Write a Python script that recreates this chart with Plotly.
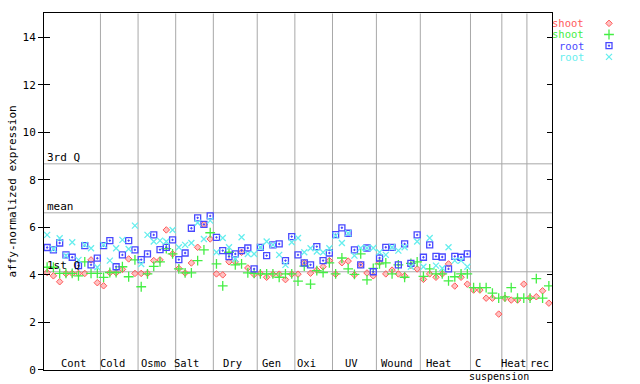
import plotly.graph_objects as go

# ---------------- data ----------------
section_labels = ["Cont", "Cold", "Osmo", "Salt", "Dry", "Gen", "Oxi", "UV",
                  "Wound", "Heat", "C", "Heat", "rec"]
section_sizes = [9, 6, 6, 6, 7, 6, 6, 7, 7, 8, 5, 4, 4]
sub_label = "suspension"

shoot_red = [4.10, 3.96, 3.71, 4.05, 4.06, 4.06, 4.06, 4.63, 3.67,
             3.54, 4.09, 4.09, 4.23, 4.67, 4.06,
             4.06, 4.06, 4.60, 4.63, 5.89, 4.88,
             4.27, 4.08, 4.50, 5.16, 6.12, 5.51,
             4.04, 4.00, 4.55, 4.55, 4.95, 4.29, 4.02,
             4.06, 3.90, 4.03, 4.03, 3.80, 4.03,
             4.03, 4.51, 4.07, 4.20, 4.34, 4.60,
             4.03, 4.51, 4.58, 4.00, 4.42, 4.08, 3.96,
             4.52, 4.04, 4.20, 4.04, 3.96, 4.40, 4.25,
             3.81, 4.04, 3.90, 4.04, 4.46, 3.53, 3.90, 3.61,
             3.36, 3.36, 3.02, 3.02, 2.35,
             3.02, 2.94, 2.94, 3.61,
             3.04, 3.08, 3.33, 2.81]

shoot_green = [4.32, 4.32, 4.06, 4.06, 4.06, 3.96, 4.55, 4.06, 4.06,
               3.89, 4.10, 4.10, 4.34, 3.92, 4.63,
               3.50, 4.04, 4.36, 4.55, 5.10, 4.88,
               4.25, 4.08, 4.08, 4.60, 5.05, 5.77,
               4.46, 3.54, 4.95, 4.42, 4.46, 4.08, 4.06,
               4.04, 4.04, 4.04, 3.90, 4.04, 4.04,
               3.74, 4.37, 3.61, 4.18, 4.10, 4.50,
               4.04, 4.71, 4.25, 4.02, 4.88, 3.79, 4.27,
               4.46, 4.50, 4.04, 4.42, 3.90, 4.48, 4.55,
               3.94, 4.25, 4.04, 4.04, 3.75, 3.92, 4.04, 4.04,
               3.46, 3.46, 3.46, 3.23, 3.02,
               3.07, 3.46, 3.02, 3.02,
               3.02, 3.84, 3.02, 3.54]

root_blue = [5.15, 5.05, 5.34, 4.84, 4.74, 4.39, 5.23, 4.42, 4.70,
             5.23, 5.44, 4.34, 4.84, 5.44, 5.05,
             4.64, 4.88, 5.68, 5.06, 5.16, 5.47,
             4.64, 4.92, 5.96, 6.40, 6.12, 6.48,
             5.58, 5.02, 4.77, 4.88, 5.02, 5.13, 4.25,
             5.16, 4.81, 5.26, 5.30, 4.60, 5.61,
             4.84, 4.50, 4.42, 5.19, 4.60, 4.92,
             5.69, 5.98, 5.75, 5.05, 4.42, 5.13, 4.13,
             4.71, 5.16, 5.16, 4.42, 5.30, 4.48, 5.68,
             4.74, 5.26, 4.78, 4.75, 4.25, 4.78, 4.74, 4.88]

root_cyan = [5.68, 5.09, 5.54, 4.81, 5.37, 4.63, 5.26, 5.12, 4.32,
             5.26, 4.60, 5.12, 5.47, 5.09, 6.07,
             4.46, 5.68, 5.40, 5.44, 5.40, 5.89,
             5.16, 5.26, 5.34, 6.19, 5.51, 6.28,
             4.95, 5.55, 5.16, 4.67, 5.58, 4.88, 4.88,
             5.16, 5.40, 5.26, 4.84, 4.42, 5.37,
             5.55, 4.95, 5.12, 4.98, 4.95, 5.12,
             5.65, 5.34, 5.75, 4.81, 5.13, 5.13, 5.13,
             4.95, 4.84, 5.16, 5.02, 5.16, 4.34, 5.40,
             4.34, 5.55, 4.39, 4.28, 5.16, 4.60, 4.60, 4.34]

ref_names = ["3rd Q", "mean", "1st Q"]
ref_values = [8.67, 6.61, 4.13]

legend_names = ["shoot", "shoot", "root", "root"]
y_ticks = [0, 2, 4, 6, 8, 10, 12, 14]
y_title = "affy-normalized expression"

# ---------------- styles / layout ----------------
W, H = 640, 384          # target frame (pixel positions below refer to it)
FIG_H = 392              # rendered figure height (compensates observed squeeze)
PL, PR, PT, PB = 44, 552, 13.3, 369
FONT = "DejaVu Sans Mono"
GRID = "#a8a8a8"
label_xshift = [1.5, -6.5, -3.5, -8, -3, -4.5, -7.5, -3, -1, -6.5, -8.5, -1, 0]
sub_xshift = -3

styles = [
    dict(symbol="diamond", size=5, color="rgba(255,120,120,0.45)",
         line=dict(color="#ff5a5a", width=1)),
    dict(symbol="cross-thin-open", size=7, color="#44ee44",
         line=dict(color="#44ee44", width=1.3)),
    dict(symbol="square-open-dot", size=6, color="#4848ff",
         line=dict(color="#4848ff", width=1.3)),
    dict(symbol="x-thin-open", size=6, color="#66eeee",
         line=dict(color="#66eeee", width=1.3)),
]
legend_colors = ["#ff5a5a", "#44ee44", "#4848ff", "#66eeee"]

n = sum(section_sizes)
series = [shoot_red, shoot_green, root_blue, root_cyan]

fig = go.Figure()
for vals, st in zip(series, styles):
    fig.add_trace(go.Scatter(
        x=[i + 0.5 for i in range(len(vals))], y=vals, mode="markers",
        marker=st, showlegend=False, hoverinfo="skip", xaxis="x", yaxis="y"))

for k, st in enumerate(styles):
    fig.add_trace(go.Scatter(x=[0], y=[k], mode="markers", marker=st,
                             showlegend=False, hoverinfo="skip",
                             xaxis="x2", yaxis="y2"))

for ya in ["y3", "y4"]:
    fig.add_trace(go.Scatter(x=[None], y=[None], mode="markers",
                             showlegend=False, hoverinfo="skip",
                             xaxis="x", yaxis=ya))

shapes = []
bounds = []
acc = 0
for s in section_sizes[:-1]:
    acc += s
    bounds.append(acc)
for b in bounds:
    shapes.append(dict(type="line", xref="x", yref="y", x0=b, x1=b, y0=0, y1=15,
                       line=dict(color=GRID, width=1), layer="below"))
for v in ref_values:
    shapes.append(dict(type="line", xref="x", yref="y", x0=0, x1=n, y0=v, y1=v,
                       line=dict(color=GRID, width=1), layer="below"))

ann = []
starts = [0] + bounds
for lab, st0, sz, xs in zip(section_labels, starts, section_sizes, label_xshift):
    ann.append(dict(x=st0 + sz / 2, y=1 - 362.5 / H, xref="x", yref="paper",
                    text=lab, showarrow=False, xanchor="center", yanchor="middle",
                    xshift=xs, font=dict(family=FONT, size=10.5, color="black")))
ci = section_labels.index("C")
ann.append(dict(x=starts[ci] + section_sizes[ci], y=1 - 376 / H, xref="x", yref="paper",
                text=sub_label, showarrow=False, xanchor="center", yanchor="middle",
                xshift=sub_xshift, font=dict(family=FONT, size=10, color="black")))
for name, v in zip(ref_names, ref_values):
    ann.append(dict(x=(PL + 1) / W, y=v, xref="paper", yref="y", text=name,
                    showarrow=False, xanchor="left", yanchor="bottom", yshift=-2,
                    font=dict(family=FONT, size=11, color="black")))
ann.append(dict(x=12 / W, y=1 - 191 / H, xref="paper", yref="paper", text=y_title,
                textangle=-90, showarrow=False, xanchor="center", yanchor="middle",
                font=dict(family=FONT, size=11, color="black")))
row_px = [23.3, 34.4, 45.6, 56.7]
for name, col, ry in zip(legend_names, legend_colors, row_px):
    ann.append(dict(x=586 / W, y=1 - ry / H, xref="paper", yref="paper", text=name,
                    showarrow=False, xanchor="right", yanchor="middle",
                    font=dict(family=FONT, size=10.5, color=col)))

xdom = [PL / W, PR / W]
ydom = [1 - PB / H, 1 - PT / H]

fig.update_layout(
    width=W, height=FIG_H, autosize=False, margin=dict(l=0, r=0, t=0, b=0, pad=0),
    paper_bgcolor="white", plot_bgcolor="white", showlegend=False,
    font=dict(family=FONT, size=11, color="black"),
    shapes=shapes, annotations=ann,
    xaxis=dict(domain=xdom, range=[0, n], showline=True, linecolor="black",
               linewidth=1, mirror=True, ticks="", showticklabels=False,
               showgrid=False, zeroline=False, fixedrange=True),
    yaxis=dict(domain=ydom, range=[0, 15], tickvals=y_ticks, ticks="outside",
               ticklen=5, tickcolor="black", showline=True, linecolor="black",
               linewidth=1, mirror=True, showgrid=False, zeroline=False,
               tickfont=dict(family=FONT, size=11, color="black")),
    yaxis3=dict(overlaying="y", anchor="x", side="left", range=[0, 15],
                tickvals=y_ticks, ticks="inside", ticklen=6, tickcolor="black",
                showticklabels=False, showline=False, showgrid=False, zeroline=False),
    yaxis4=dict(overlaying="y", anchor="x", side="right", range=[0, 15],
                tickvals=y_ticks, ticks="inside", ticklen=5, tickcolor="black",
                showticklabels=False, showline=False, showgrid=False, zeroline=False),
    xaxis2=dict(domain=[600 / W, 618 / W], range=[-1, 1], visible=False,
                anchor="y2"),
    yaxis2=dict(domain=[1 - 62.3 / H, 1 - 17.7 / H], range=[3.5, -0.5],
                visible=False, anchor="x2"),
)

fig.write_html("out.html",
               config={"displayModeBar": False, "responsive": False},
               post_script="document.body.style.margin='0px';"
                           "document.body.style.overflow='hidden';")
